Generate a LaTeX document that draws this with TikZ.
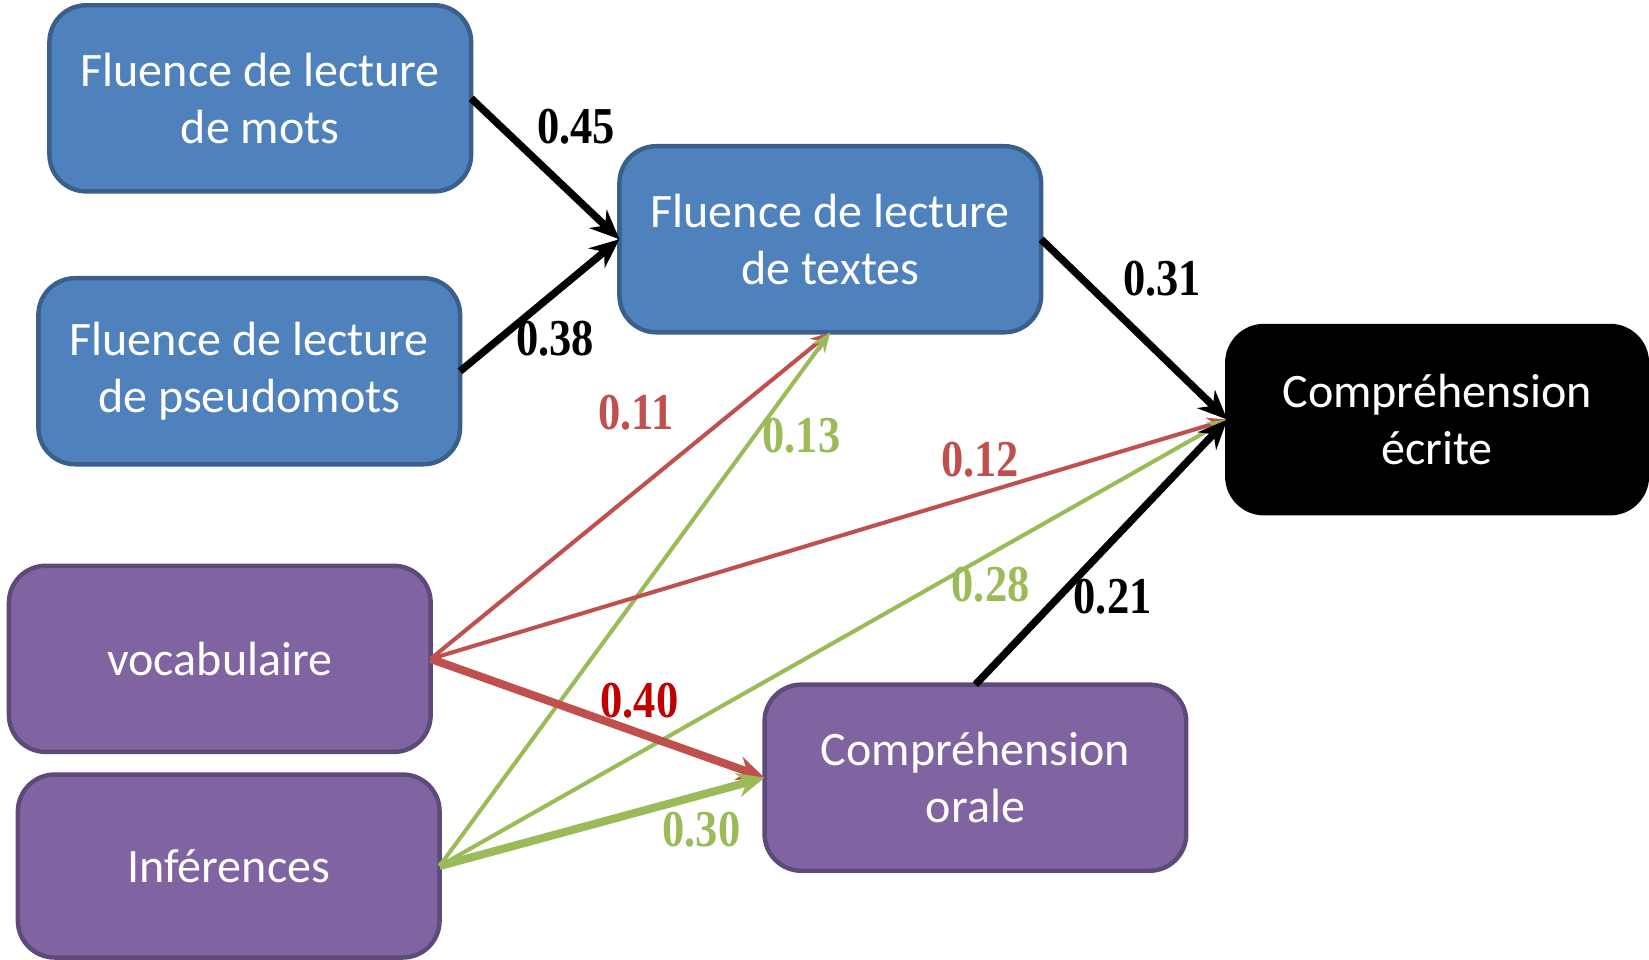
\documentclass[tikz,border=0pt]{standalone}
\usepackage{fontspec}
\setmainfont{Carlito}
\newfontfamily\numfont[FakeStretch=0.86]{Liberation Serif}
\usetikzlibrary{arrows.meta}

\definecolor{boxblue}{HTML}{4F81BD}
\definecolor{edgeblue}{HTML}{3A5F8B}
\definecolor{boxpurple}{HTML}{8064A2}
\definecolor{edgepurple}{HTML}{5E4A78}
\definecolor{pathred}{HTML}{C0504D}
\definecolor{strongred}{HTML}{C00000}
\definecolor{pathgreen}{HTML}{9BBB59}

\begin{document}
\begin{tikzpicture}[x=0.1mm,y=-0.1mm,
  box/.style={rounded corners=3.5mm, minimum width=40.1mm, minimum height=17.7mm,
    align=center, text=white, font=\fontsize{13}{15.4}\selectfont,
    line width=1.2pt, outer sep=0pt, inner sep=0pt},
  bluebox/.style={box, fill=boxblue, draw=edgeblue},
  purplebox/.style={box, fill=boxpurple, draw=edgepurple},
  blackbox/.style={box, fill=black, draw=black},
  coef/.style={font=\numfont\bfseries\fontsize{14}{16}\selectfont, inner sep=0pt},
  blacklink/.style={draw=black, line width=2pt, -{Stealth[length=2.8mm,width=2.4mm]}},
  thinlink/.style={line width=1.1pt, -{Stealth[length=1.9mm,width=1.5mm]}},
  thicklink/.style={line width=2.2pt, -{Stealth[length=2.6mm,width=2.3mm]}},
]
\useasboundingbox (0,0) rectangle (1568,912);

% boxes
\node[bluebox]   (mots)   at (247.5,93.5)  {Fluence de lecture\\de mots};
\node[bluebox]   (pseudo) at (237,353)     {Fluence de lecture\\de pseudomots};
\node[bluebox]   (textes) at (789.5,227.5) {Fluence de lecture\\de textes};
\node[blackbox, minimum width=39.9mm, minimum height=17.8mm]
                 (ecrite) at (1366.5,399)  {Compréhension\\écrite};
\node[purplebox] (vocab)  at (209,626.5)   {vocabulaire};
\node[purplebox, minimum height=17.4mm]
                 (infer)  at (217.5,823.5) {Inférences};
\node[purplebox] (orale)  at (927.5,739.5) {Compréhension\\orale};

% thin paths
\draw[thinlink, pathred]   (vocab.east) -- (textes.south);
\draw[thinlink, pathgreen] (infer.east) -- (textes.south);
\draw[thinlink, pathred]   (vocab.east) -- (ecrite.west);
\draw[thinlink, pathgreen] (infer.east) -- (ecrite.west);

% strong paths
\draw[thicklink, pathred]   (vocab.east) -- (orale.west);
\draw[thicklink, pathgreen] (infer.east) -- (orale.west);

% black paths
\draw[blacklink] (mots.east)   -- (textes.west);
\draw[blacklink] (pseudo.east) -- (textes.west);
\draw[blacklink] (textes.east) -- (ecrite.west);
\draw[blacklink] (orale.north) -- (ecrite.west);

% coefficients
\node[coef] (c45) at (548,120) {0.45};
\node[coef] (c38) at (528,322) {0.38};
\node[coef] (c31) at (1105,265) {0.31};
\node[coef, text=pathred]   (c11) at (605,392) {0.11};
\node[coef, text=pathgreen] (c13) at (762,414) {0.13};
\node[coef, text=pathred]   (c12) at (932,437) {0.12};
\node[coef, text=pathgreen] (c28) at (942,556) {0.28};
\node[coef] (c21) at (1058,567) {0.21};
\node[coef, text=strongred] (c40) at (608,666) {0.40};
\node[coef, text=pathgreen] (c30) at (667,789) {0.30};
\end{tikzpicture}
\end{document}
